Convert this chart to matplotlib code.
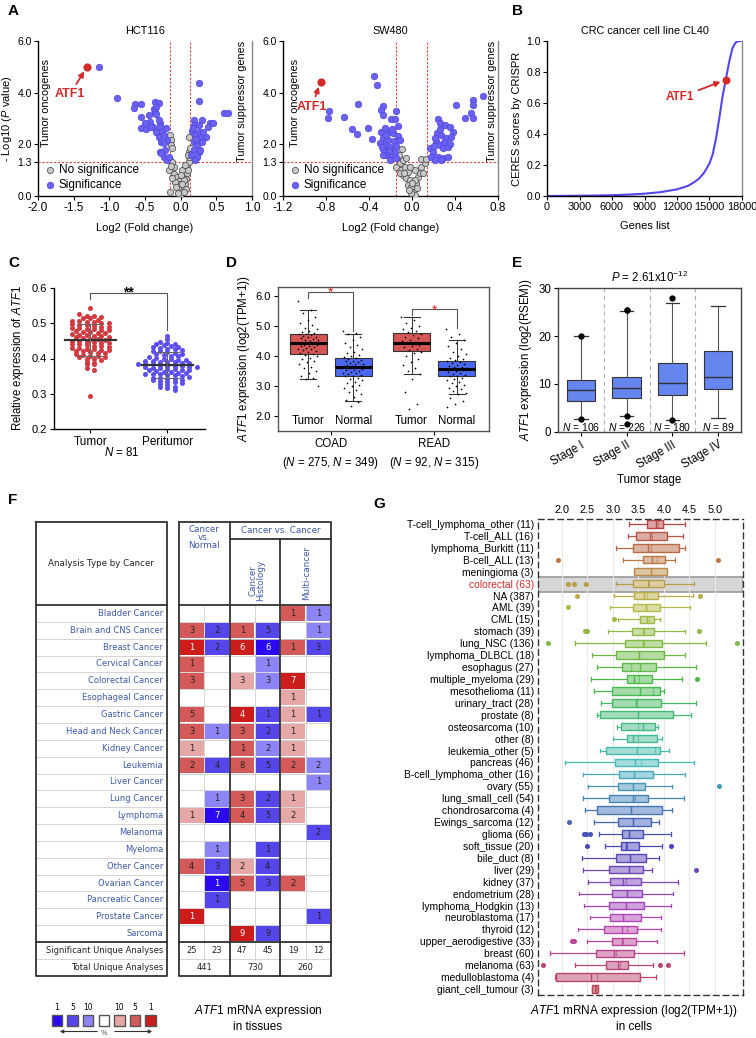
import colorsys
import numpy as np
import matplotlib
matplotlib.use("Agg")
import matplotlib.pyplot as plt
from matplotlib.patches import Rectangle

plt.rcParams['font.family'] = ['Liberation Sans', 'DejaVu Sans']
plt.rcParams['mathtext.fontset'] = 'custom'
plt.rcParams['mathtext.rm'] = 'Liberation Sans'
plt.rcParams['mathtext.it'] = 'Liberation Sans:italic'
plt.rcParams['mathtext.bf'] = 'Liberation Sans:bold'
plt.rcParams['font.size'] = 8
plt.rcParams['axes.linewidth'] = 1.0

# ---------------- data ----------------
# A: volcano plots (log2 fold change, -log10 p)
hct_sig_x = [-1.15, -0.89, -0.64, -0.55, -0.65, -0.36, -0.31, -0.38, -0.34, -0.36, -0.55, -0.45,
             -0.34, -0.43, -0.29, -0.50, -0.55, -0.48, -0.39, -0.29, -0.20, -0.27, -0.35, -0.31,
             -0.24, -0.27, -0.19, -0.29, -0.22, -0.24, -0.19, -0.41, -0.30, -0.24, -0.17, -0.28,
             0.25, 0.25, 0.61, 0.66, 0.18, 0.30, 0.41, 0.45, 0.39, 0.18, 0.25, 0.16, 0.25, 0.20,
             0.27, 0.36, 0.32, 0.18, 0.23, 0.19, 0.25, 0.23, 0.20, 0.27, 0.15, 0.22, 0.30, 0.17]
hct_sig_y = [5.00, 3.81, 3.55, 3.55, 3.40, 3.62, 3.59, 3.36, 3.46, 3.27, 3.07, 3.14,
             3.18, 2.88, 2.84, 2.82, 2.62, 2.59, 2.69, 2.69, 2.62, 2.49, 2.49, 2.30,
             2.36, 2.10, 2.17, 1.72, 1.78, 1.52, 1.40, 2.66, 2.95, 2.04, 1.52, 1.65,
             4.39, 3.68, 3.23, 3.23, 2.95, 2.95, 2.84, 2.84, 2.69, 2.75, 2.75, 2.53, 2.49, 2.36,
             2.27, 2.30, 2.49, 2.10, 1.98, 1.78, 1.72, 1.52, 1.40, 1.78, 1.60, 2.20, 2.10, 2.62]
hct_ns_x = [-0.15, -0.14, -0.14, -0.125, -0.15, -0.125, -0.16, -0.10, -0.055, -0.03, -0.01, -0.03,
            0.015, -0.01, 0.04, 0.06, 0.075, 0.09, 0.09, 0.11, 0.12, 0.12, 0.13, 0.12, -0.15,
            -0.08, 0.04, 0.08, -0.10, 0.015, -0.12, -0.06, 0.0, 0.05, -0.04, 0.10, 0.06, -0.13,
            0.02, 0.10]
hct_ns_y = [2.36, 2.17, 1.98, 1.85, 1.40, 1.33, 0.99, 0.85, 0.72, 0.59, 0.47, 0.28,
            0.14, 0.04, 0.34, 0.47, 0.66, 0.88, 1.14, 1.33, 1.52, 1.72, 1.85, 2.30, 0.14,
            0.55, 0.61, 0.28, 1.14, 0.99, 0.70, 0.35, 0.80, 0.15, 0.10, 1.00, 1.20, 1.15,
            0.45, 1.60]
hct_atf1 = (-1.31, 5.01)

sw_sig_x = [-0.35, -0.33, -0.77, -0.78, -0.63, -0.50, -0.56, -0.51, -0.41, -0.37, -0.27, -0.29,
            -0.27, -0.20, -0.16, -0.15, -0.285, -0.254, -0.214, -0.177, -0.13, -0.27, -0.223,
            -0.17, -0.115, -0.254, -0.208, -0.146, -0.27, -0.214, -0.161, -0.239, -0.192, -0.27,
            -0.208, -0.146, -0.30, -0.24, -0.19, -0.28, -0.13,
            0.66, 0.57, 0.57, 0.41, 0.49, 0.55, 0.57, 0.242, 0.258, 0.304, 0.35, 0.38, 0.23, 0.27,
            0.32, 0.366, 0.227, 0.258, 0.289, 0.335, 0.164, 0.195, 0.18, 0.242, 0.289, 0.335,
            0.21, 0.27, 0.30, 0.21, 0.35, 0.26, 0.20]
sw_sig_y = [4.64, 4.30, 3.29, 3.00, 3.07, 3.57, 2.58, 2.40, 2.62, 2.20, 3.47, 3.34,
            3.14, 2.97, 2.97, 3.29, 2.49, 2.62, 2.49, 2.43, 2.33, 2.24, 2.17,
            2.11, 2.17, 1.98, 1.91, 1.94, 1.81, 1.76, 1.72, 1.59, 1.52, 1.59,
            1.40, 1.46, 2.05, 2.35, 2.60, 1.90, 2.70,
            3.88, 3.72, 3.53, 3.53, 3.00, 3.20, 3.00, 2.97, 2.82, 2.75, 2.69, 2.49, 2.43, 2.36,
            2.24, 2.27, 2.11, 1.98, 1.85, 1.89, 1.85, 1.72, 1.52, 1.52, 1.46, 1.52,
            1.40, 1.40, 2.10, 2.25, 2.00, 2.60, 1.95]
sw_ns_x = [-0.09, -0.13, -0.115, -0.084, -0.053, -0.146, -0.10, -0.068, -0.037, -0.084, -0.053,
           -0.022, -0.037, -0.006, 0.009, 0.025, -0.006, 0.04, 0.056, 0.071, 0.102, 0.087, 0.118,
           0.087, 0.133, 0.025, -0.022, -0.115, 0.025, -0.12, -0.07, 0.0, 0.05, -0.03]
sw_ns_y = [1.81, 1.46, 1.27, 1.40, 1.46, 1.14, 1.01, 1.14, 0.94, 0.81, 0.68,
           0.62, 0.43, 0.36, 0.17, 0.04, 0.10, 0.49, 0.75, 0.88, 0.88, 1.14, 1.27,
           1.42, 1.42, 1.01, 1.14, 0.88, 0.62, 1.60, 0.90, 0.50, 0.30, 0.25]
sw_atf1 = (-0.85, 4.43)

# B: CERES curve
b_genes = [0, 1500, 3000, 4500, 6000, 7500, 9000, 10500, 12000, 13000, 13500, 14000, 14500,
           15000, 15300, 15600, 15900, 16200, 16500, 16800, 17100, 17400, 17700, 18000]
b_scores = [0.0, 0.001, 0.002, 0.003, 0.005, 0.009, 0.015, 0.025, 0.043, 0.065, 0.085, 0.11, 0.15,
            0.21, 0.27, 0.37, 0.50, 0.64, 0.75, 0.86, 0.95, 0.99, 1.0, 1.0]
b_atf1 = (16500, 0.75)

# C: relative expression, N = 81
c_tumor = [0.543, 0.525, 0.521, 0.520, 0.518, 0.516, 0.515, 0.508, 0.506, 0.505, 0.504, 0.503,
           0.502, 0.500, 0.497, 0.495, 0.494, 0.492, 0.490, 0.489, 0.487, 0.486, 0.485, 0.484,
           0.482, 0.480, 0.478, 0.476, 0.475, 0.473, 0.471, 0.470, 0.468, 0.466, 0.465, 0.463,
           0.461, 0.460, 0.458, 0.456, 0.455, 0.453, 0.451, 0.450, 0.448, 0.446, 0.445, 0.443,
           0.441, 0.440, 0.438, 0.436, 0.435, 0.433, 0.431, 0.430, 0.428, 0.426, 0.425, 0.423,
           0.421, 0.420, 0.418, 0.416, 0.415, 0.413, 0.410, 0.408, 0.406, 0.405, 0.403, 0.400,
           0.398, 0.395, 0.390, 0.387, 0.385, 0.383, 0.372, 0.367, 0.295]
c_peri = [0.465, 0.455, 0.447, 0.444, 0.442, 0.440, 0.438, 0.436, 0.434, 0.432, 0.430, 0.428,
          0.426, 0.424, 0.422, 0.420, 0.418, 0.416, 0.414, 0.412, 0.410, 0.408, 0.406, 0.404,
          0.402, 0.400, 0.399, 0.397, 0.396, 0.394, 0.393, 0.391, 0.390, 0.389, 0.387, 0.386,
          0.385, 0.384, 0.383, 0.382, 0.380, 0.379, 0.378, 0.377, 0.376, 0.375, 0.374, 0.372,
          0.371, 0.370, 0.368, 0.367, 0.366, 0.365, 0.363, 0.362, 0.360, 0.358, 0.357, 0.356,
          0.355, 0.353, 0.352, 0.350, 0.348, 0.346, 0.345, 0.343, 0.341, 0.340, 0.338, 0.336,
          0.334, 0.332, 0.330, 0.328, 0.325, 0.320, 0.318, 0.315, 0.312]

# D: GEPIA box plots
d_groups = ['Tumor', 'Normal', 'Tumor', 'Normal']
d_q1 = [4.07, 3.35, 4.17, 3.33]
d_med = [4.42, 3.65, 4.45, 3.58]
d_q3 = [4.72, 3.92, 4.77, 3.83]
d_whislo = [3.25, 2.50, 3.40, 2.75]
d_whishi = [5.55, 4.72, 5.30, 4.55]
d_points = [
    [5.85, 5.55, 5.45, 5.3, 5.2, 5.1, 5.05, 4.95, 4.9, 4.85, 4.8, 4.78, 4.75, 4.72, 4.7, 4.68,
     4.65, 4.62, 4.6, 4.58, 4.55, 4.52, 4.5, 4.48, 4.46, 4.44, 4.42, 4.4, 4.38, 4.36, 4.34, 4.32,
     4.3, 4.28, 4.25, 4.22, 4.2, 4.17, 4.14, 4.1, 4.07, 4.03, 4.0, 3.95, 3.9, 3.85, 3.8, 3.72,
     3.65, 3.6, 3.5, 3.42, 3.35, 3.28, 3.25, 3.0],
    [4.85, 4.78, 4.72, 4.65, 4.55, 4.45, 4.38, 4.3, 4.22, 4.15, 4.1, 4.05, 4.0, 3.97, 3.94, 3.9,
     3.88, 3.85, 3.82, 3.8, 3.78, 3.75, 3.73, 3.7, 3.68, 3.66, 3.64, 3.62, 3.6, 3.58, 3.55, 3.52,
     3.5, 3.48, 3.45, 3.42, 3.4, 3.37, 3.35, 3.32, 3.28, 3.25, 3.2, 3.15, 3.1, 3.05, 3.0, 2.95,
     2.88, 2.8, 2.72, 2.65, 2.55, 2.48, 2.35],
    [5.3, 5.2, 5.1, 5.0, 4.95, 4.9, 4.85, 4.8, 4.75, 4.7, 4.65, 4.6, 4.55, 4.5, 4.46, 4.42, 4.38,
     4.34, 4.3, 4.25, 4.2, 4.15, 4.1, 4.0, 3.9, 3.8, 3.7, 3.6, 3.5, 3.4, 3.25, 2.8, 2.4, 2.25],
    [4.9, 4.75, 4.62, 4.55, 4.45, 4.35, 4.25, 4.15, 4.08, 4.0, 3.95, 3.9, 3.86, 3.83, 3.8, 3.77,
     3.74, 3.71, 3.68, 3.65, 3.62, 3.6, 3.58, 3.56, 3.53, 3.5, 3.47, 3.44, 3.41, 3.38, 3.35, 3.32,
     3.28, 3.24, 3.2, 3.15, 3.1, 3.05, 3.0, 2.95, 2.9, 2.85, 2.78, 2.72, 2.6, 2.5, 2.4, 2.3]]
d_cohorts = ['COAD', 'READ']
d_counts = [(275, 349), (92, 315)]

# E: tumor stage
e_stages = ['Stage I', 'Stage II', 'Stage III', 'Stage IV']
e_n = [106, 226, 180, 89]
e_q1 = [6.5, 7.0, 7.7, 9.0]
e_med = [8.8, 9.1, 10.3, 11.5]
e_q3 = [10.9, 11.4, 14.4, 16.8]
e_whislo = [2.7, 3.3, 2.5, 3.0]
e_whishi = [20.0, 25.2, 26.8, 26.2]
e_fliers = [[20.0, 2.7], [25.5, 25.5, 3.3, 1.7], [27.9, 2.4], []]

# F: Oncomine table
f_cancers = ['Bladder Cancer', 'Brain and CNS Cancer', 'Breast Cancer', 'Cervical Cancer',
             'Colorectal Cancer', 'Esophageal Cancer', 'Gastric Cancer', 'Head and Neck Cancer',
             'Kidney Cancer', 'Leukemia', 'Liver Cancer', 'Lung Cancer', 'Lymphoma', 'Melanoma',
             'Myeloma', 'Other Cancer', 'Ovarian Cancer', 'Pancreatic Cancer', 'Prostate Cancer',
             'Sarcoma']
f_counts = [[0, 0, 0, 0, 1, 1], [3, 2, 1, 5, 0, 1], [1, 2, 6, 6, 1, 3], [1, 0, 0, 1, 0, 0],
            [3, 0, 3, 3, 7, 0], [0, 0, 0, 0, 1, 0], [5, 0, 4, 1, 1, 1], [3, 1, 3, 2, 1, 0],
            [1, 0, 1, 2, 1, 0], [2, 4, 8, 5, 2, 2], [0, 0, 0, 0, 0, 1], [0, 1, 3, 2, 1, 0],
            [1, 7, 4, 5, 2, 0], [0, 0, 0, 0, 0, 2], [0, 1, 0, 1, 0, 0], [4, 3, 2, 4, 0, 0],
            [0, 1, 5, 3, 2, 0], [0, 1, 0, 0, 0, 0], [1, 0, 0, 0, 0, 1], [0, 0, 9, 9, 0, 0]]
f_shade = [[0, 0, 0, 0, 2, 1], [2, 2, 2, 2, 0, 1], [3, 2, 3, 3, 2, 2], [2, 0, 0, 1, 0, 0],
           [2, 0, 1, 1, 3, 0], [0, 0, 0, 0, 1, 0], [2, 0, 3, 2, 1, 2], [2, 1, 2, 2, 1, 0],
           [1, 0, 2, 1, 1, 0], [2, 2, 2, 2, 2, 1], [0, 0, 0, 0, 0, 1], [0, 1, 2, 2, 1, 0],
           [1, 3, 2, 2, 1, 0], [0, 0, 0, 0, 0, 2], [0, 1, 0, 2, 0, 0], [2, 2, 1, 2, 0, 0],
           [0, 3, 2, 2, 2, 0], [0, 2, 0, 0, 0, 0], [3, 0, 0, 0, 0, 2], [0, 0, 3, 2, 0, 0]]
f_sig = [25, 23, 47, 45, 19, 12]
f_total = [441, 730, 260]
f_legend_labels = ['1', '5', '10', '', '10', '5', '1']

# G: CCLE lineages
g_labels = ['T-cell_lymphoma_other', 'T-cell_ALL', 'lymphoma_Burkitt', 'B-cell_ALL', 'meningioma',
            'colorectal', 'NA', 'AML', 'CML', 'stomach', 'lung_NSC', 'lymphoma_DLBCL', 'esophagus',
            'multiple_myeloma', 'mesothelioma', 'urinary_tract', 'prostate', 'osteosarcoma', 'other',
            'leukemia_other', 'pancreas', 'B-cell_lymphoma_other', 'ovary', 'lung_small_cell',
            'chondrosarcoma', 'Ewings_sarcoma', 'glioma', 'soft_tissue', 'bile_duct', 'liver',
            'kidney', 'endometrium', 'lymphoma_Hodgkin', 'neuroblastoma', 'thyroid',
            'upper_aerodigestive', 'breast', 'melanoma', 'medulloblastoma', 'giant_cell_tumour']
g_n = [11, 16, 11, 13, 3, 63, 387, 39, 15, 39, 136, 18, 27, 29, 11, 28, 8, 10, 8, 5, 46, 16, 55,
       54, 4, 12, 66, 20, 8, 29, 37, 28, 13, 17, 12, 33, 60, 63, 4, 3]
g_whislo = [3.32, 3.30, 3.05, 3.19, 3.41, 3.05, 3.03, 2.94, 3.09, 2.90, 2.25, 2.59, 2.69, 2.56,
            2.63, 2.76, 2.68, 3.07, 3.01, 2.75, 2.06, 2.42, 2.52, 2.42, 2.46, 2.62, 2.73, 2.84,
            2.39, 2.42, 2.52, 2.34, 2.44, 2.54, 2.31, 2.50, 1.76, 2.25, 1.86, 2.58]
g_q1 = [3.66, 3.45, 3.39, 3.59, 3.41, 3.40, 3.42, 3.40, 3.53, 3.38, 3.24, 3.06, 3.18, 3.28, 2.99,
        2.99, 2.75, 3.15, 3.27, 2.86, 3.04, 3.11, 3.10, 2.92, 2.68, 3.09, 3.18, 3.16, 3.05, 2.93,
        2.95, 2.99, 2.92, 2.94, 2.82, 2.99, 2.66, 2.87, 1.89, 2.58]
g_med = [3.84, 3.73, 3.68, 3.76, 3.74, 3.68, 3.61, 3.64, 3.66, 3.58, 3.58, 3.52, 3.53, 3.42, 3.53,
         3.46, 3.50, 3.58, 3.40, 3.48, 3.43, 3.42, 3.39, 3.39, 3.35, 3.40, 3.31, 3.25, 3.33, 3.32,
         3.20, 3.28, 3.25, 3.19, 3.17, 3.17, 3.02, 3.09, 2.56, 2.64]
g_mean = [3.88, 3.77, 3.75, 3.87, 3.74, 3.70, 3.66, 3.64, 3.70, 3.60, 3.60, 3.52, 3.35, 3.52,
          3.79, 3.47, 3.50, 3.50, 3.50, 3.82, 3.55, 3.42, 3.39, 3.43, 3.35, 3.40, 3.31, 3.28,
          3.33, 3.32, 3.26, 3.28, 3.25, 3.19, 3.28, 3.20, 3.05, 3.13, 2.68, 2.66]
g_q3 = [3.99, 4.05, 4.29, 4.02, 4.05, 4.00, 3.89, 3.92, 3.80, 3.80, 3.97, 4.00, 3.84, 3.77, 3.92,
        3.95, 4.18, 3.82, 3.86, 3.92, 3.89, 3.79, 3.63, 3.69, 3.97, 3.74, 3.58, 3.52, 3.64, 3.58,
        3.54, 3.56, 3.61, 3.54, 3.48, 3.46, 3.42, 3.29, 3.53, 2.70]
g_whishi = [4.41, 4.38, 4.41, 4.22, 4.05, 4.58, 4.56, 4.52, 3.93, 4.41, 4.82, 4.41, 4.62, 4.36,
            4.01, 4.63, 4.54, 3.89, 3.97, 4.10, 4.58, 4.41, 4.16, 4.40, 4.16, 3.90, 4.13, 3.97,
            3.91, 3.76, 4.28, 4.18, 4.13, 3.95, 3.95, 3.87, 4.39, 3.79, 3.84, 2.70]
g_fliers = [[], [], [], [1.92, 5.05], [], [2.11, 2.24, 2.48], [2.30, 4.71], [2.12], [3.02],
            [2.45, 2.50, 4.69], [1.72, 5.44], [], [], [4.64], [], [], [], [], [], [], [], [],
            [5.07], [], [], [2.14], [2.43, 2.48, 2.54], [2.50, 4.13], [], [4.63], [], [], [], [],
            [], [2.19, 2.23], [], [1.62, 3.93, 4.07], [], []]
g_highlight = 'colorectal'

# ---------------- figure ----------------
W, H = 756, 1038
fig = plt.figure(figsize=(W / 100, H / 100), dpi=100)


def add_ax(l, t, r, b):
    return fig.add_axes([l / W, 1 - b / H, (r - l) / W, (b - t) / H])


def ftext(x, y, s, **kw):
    fig.text(x / W, 1 - y / H, s, **kw)


RED = '#d42a2a'
SIG_BLUE = '#6a62f2'

for letter, x, y in [('A', 8, 11), ('B', 512, 11), ('C', 8, 263), ('D', 226, 263),
                     ('E', 512, 263), ('F', 8, 500), ('G', 373, 504)]:
    ftext(x, y, letter, fontsize=11, fontweight='bold', va='center', ha='left')

ARROW = dict(arrowstyle='-|>', color=RED, lw=1.3, shrinkA=1, shrinkB=4, mutation_scale=8)


# ---- A ----
def volcano(ax, sx, sy, nx, ny, atf, txt, vl, xlim, xticks, title, onc_x, sup_x):
    ax.scatter(nx, ny, s=20, facecolor='#c9c9c9', edgecolor='#555555', lw=0.6, zorder=3,
               label='No significance')
    ax.scatter(sx, sy, s=22, facecolor=SIG_BLUE, edgecolor='#4f45dc', lw=0.5, zorder=3,
               label='Significance')
    ax.scatter([atf[0]], [atf[1]], s=24, color=RED, zorder=4)
    ax.annotate('ATF1', xy=atf, xytext=txt, color=RED, fontweight='bold', fontsize=9,
                ha='center', va='center', arrowprops=ARROW)
    for v in vl:
        ax.axvline(v, color='#e04040', ls=(0, (2, 1.5)), lw=0.8, zorder=1)
    ax.axhline(1.3, color='#e04040', ls=(0, (2, 1.5)), lw=0.8, zorder=1)
    ax.set_xlim(*xlim)
    ax.set_ylim(0, 6)
    ax.set_xticks(xticks)
    ax.set_xticklabels(['%.1f' % t for t in xticks], fontsize=8.5)
    ax.set_yticks([0, 1.3, 2, 4, 6])
    ax.set_yticklabels(['0.0', '1.3', '2.0', '4.0', '6.0'], fontsize=7.5)
    ax.spines['top'].set_visible(False)
    ax.spines['right'].set_color('#888888')
    ax.tick_params(length=3, pad=1.5)
    ax.set_title(title, fontsize=7.8, pad=5)
    ax.set_xlabel('Log2 (Fold change)', fontsize=8, labelpad=6)
    ax.text(onc_x, 0.6, 'Tumor oncogenes', rotation=90, transform=ax.transAxes,
            ha='center', va='center', fontsize=7.8)
    ax.text(sup_x, 0.61, 'Tumor suppressor genes', rotation=90, transform=ax.transAxes,
            ha='center', va='center', fontsize=7.8)
    ax.legend(loc='lower left', frameon=False, fontsize=8.5, handletextpad=0.1,
              labelspacing=0.25, borderaxespad=0.15, borderpad=0.3, handlelength=1.2)


axA1 = add_ax(38, 41, 252, 196)
volcano(axA1, hct_sig_x, hct_sig_y, hct_ns_x, hct_ns_y, hct_atf1, (-1.55, 3.95), [-0.15, 0.13],
        (-2, 1), np.arange(-2, 1.01, 0.5), 'HCT116', 0.037, 0.953)
axA1.set_ylabel('- Log10 ($\\it{P}$ value)', fontsize=8, labelpad=2)

axA2 = add_ax(283, 41, 498, 196)
volcano(axA2, sw_sig_x, sw_sig_y, sw_ns_x, sw_ns_y, sw_atf1, (-0.93, 3.46), [-0.15, 0.14],
        (-1.2, 0.8), np.arange(-1.2, 0.81, 0.4), 'SW480', 0.054, 0.97)

# ---- B ----
axB = add_ax(547, 41, 742, 196)
axB.plot(b_genes, b_scores, color='#5546ee', lw=1.5)
axB.scatter([b_atf1[0]], [b_atf1[1]], s=22, color=RED, zorder=4)
axB.annotate('ATF1', xy=b_atf1, xytext=(12300, 0.637), color=RED, fontweight='bold',
             fontsize=8.5, ha='center', va='center', arrowprops=ARROW)
axB.set_xlim(0, 18000)
axB.set_ylim(0, 1)
axB.set_xticks(np.arange(0, 18001, 3000))
axB.set_xticklabels([str(t) for t in range(0, 18001, 3000)], fontsize=7.8)
axB.set_yticks(np.arange(0, 1.01, 0.2))
axB.set_yticklabels(['%.1f' % t for t in np.arange(0, 1.01, 0.2)], fontsize=7.5)
axB.spines['top'].set_visible(False)
axB.spines['right'].set_color('#888888')
axB.tick_params(length=3, pad=1.5)
axB.set_title('CRC cancer cell line CL40', fontsize=7.8, pad=5)
axB.set_xlabel('Genes list', fontsize=8, labelpad=6)
axB.set_ylabel('CERES scores by CRISPR', fontsize=8, labelpad=3)


# ---- C ----
def swarm(vals, bin_w, step):
    vals = np.asarray(vals)
    bins = np.floor(vals / bin_w)
    offs = np.zeros(len(vals))
    for b in np.unique(bins):
        idx = np.where(bins == b)[0]
        offs[idx] = (np.arange(len(idx)) - (len(idx) - 1) / 2) * step
    return offs


axC = add_ax(54, 288, 205, 429)
for pos, vals, col in [(0, c_tumor, '#d23a3f'), (1, c_peri, '#5d4ff0')]:
    v = np.asarray(vals)
    axC.scatter(pos + swarm(v, 0.0094, 0.095), v, s=13, color=col, lw=0, zorder=3)
    m, sd = v.mean(), v.std()
    axC.plot([pos - 0.33, pos + 0.33], [m, m], color='#333333', lw=1.6, zorder=4)
    axC.errorbar([pos], [m], yerr=[sd], color='#666666', lw=0.8, capsize=9, capthick=0.8,
                 zorder=4)
axC.plot([0, 0, 1, 1], [0.57, 0.585, 0.585, 0.48], color='#555555', lw=0.8)
axC.text(0.5, 0.588, '**', ha='center', va='center', fontsize=10, fontweight='bold')
axC.set_xlim(-0.47, 1.49)
axC.set_ylim(0.2, 0.6)
axC.set_xticks([0, 1])
axC.set_xticklabels(['Tumor', 'Peritumor'], fontsize=8.5)
axC.set_yticks(np.arange(0.2, 0.61, 0.1))
axC.set_yticklabels(['%.1f' % t for t in np.arange(0.2, 0.61, 0.1)], fontsize=8)
for s in ['top', 'right']:
    axC.spines[s].set_visible(False)
axC.tick_params(length=3, pad=2)
axC.set_ylabel('Relative expression of $\\it{ATF1}$', fontsize=8.3, labelpad=4)
ftext(122, 453, '$\\it{N}$ = 81', fontsize=8.3, ha='center', va='center')

# ---- D ----
axD = add_ax(278, 287, 489, 431)
d_pos = [0, 1, 2.3, 3.3]
d_cols = ['#d65555', '#4c68f0', '#d65555', '#4c68f0']
for i, p in enumerate(d_pos):
    st = dict(med=d_med[i], q1=d_q1[i], q3=d_q3[i], whislo=d_whislo[i], whishi=d_whishi[i],
              fliers=[])
    axD.bxp([st], positions=[p], widths=0.82, patch_artist=True, showfliers=False,
            boxprops=dict(facecolor=d_cols[i], edgecolor='#333333', lw=0.8),
            medianprops=dict(color='black', lw=2.2),
            whiskerprops=dict(color='#333333', lw=0.7),
            capprops=dict(color='#333333', lw=0.8), capwidths=0.36)
    pts = np.asarray(d_points[i])
    jit = ((np.arange(len(pts)) * 0.618034) % 1 - 0.5) * 0.45
    axD.scatter(p + jit, pts, s=1.5, color='black', lw=0, zorder=5)
axD.plot([0, 0, 1, 1], [5.95, 6.15, 6.15, 4.85], color='#555555', lw=0.8)
axD.plot([2.3, 2.3, 3.3, 3.3], [5.38, 5.56, 5.56, 4.95], color='#555555', lw=0.8)
axD.text(0.5, 6.1, '*', color=RED, ha='center', va='center', fontsize=10)
axD.text(2.8, 5.51, '*', color=RED, ha='center', va='center', fontsize=10)
for p, g in zip(d_pos, d_groups):
    axD.text(p, 1.83, g, ha='center', va='center', fontsize=8.3)
axD.set_xlim(-0.67, 4.02)
axD.set_ylim(1.5, 6.3)
axD.set_yticks([2, 3, 4, 5, 6])
axD.set_yticklabels(['2.0', '3.0', '4.0', '5.0', '6.0'], fontsize=8)
axD.set_xticks([0.5, 2.8])
axD.set_xticklabels(['%s\n($\\it{N}$ = %d, $\\it{N}$ = %d)' % (c, n[0], n[1])
                     for c, n in zip(d_cohorts, d_counts)], fontsize=8.3, linespacing=1.5)
for s in axD.spines.values():
    s.set_color('#555555')
axD.tick_params(length=3, pad=2)
axD.set_ylabel('$\\it{ATF1}$ expression (log2(TPM+1))', fontsize=8.3, labelpad=3)

# ---- E ----
axE = add_ax(558, 288, 741, 432)
for i in range(4):
    st = dict(med=e_med[i], q1=e_q1[i], q3=e_q3[i], whislo=e_whislo[i], whishi=e_whishi[i],
              fliers=e_fliers[i])
    axE.bxp([st], positions=[i + 1], widths=0.62, patch_artist=True,
            boxprops=dict(facecolor='#6585ef', edgecolor='#333333', lw=0.8),
            medianprops=dict(color='#333333', lw=1.0),
            whiskerprops=dict(color='#555555', lw=0.8),
            capprops=dict(color='#333333', lw=0.9), capwidths=0.3,
            flierprops=dict(marker='o', markerfacecolor='black', markeredgecolor='black',
                            markersize=3.5))
    axE.text(i + 1, 1.1, '$\\it{N}$ = %d' % e_n[i], ha='center', va='center', fontsize=7.5)
for xv in [1.5, 2.5, 3.5]:
    axE.axvline(xv, color='#b0b0b0', ls=(0, (4, 3)), lw=0.8, zorder=0)
axE.set_xlim(0.5, 4.5)
axE.set_ylim(0, 30)
axE.set_yticks([0, 10, 20, 30])
axE.set_yticklabels(['0', '10', '20', '30'], fontsize=8.3)
axE.set_xticks([1, 2, 3, 4])
axE.set_xticklabels(e_stages, rotation=30, ha='right', rotation_mode='anchor', fontsize=8.3)
for s in axE.spines.values():
    s.set_color('#444444')
axE.tick_params(length=3, pad=2)
axE.set_title('$\\it{P}$ = 2.61x10$^{-12}$', fontsize=8.3, pad=4)
axE.set_xlabel('Tumor stage', fontsize=8.3, labelpad=2)
axE.set_ylabel('$\\it{ATF1}$ expression (log2(RSEM))', fontsize=8.3, labelpad=3)

# ---- F ----
axF = fig.add_axes([0, 0, 380 / W, 1])
axF.set_xlim(0, 380)
axF.set_ylim(H, 0)
axF.axis('off')
F_RED = ['#e6a7a7', '#d45a5a', '#cc1c1c']
F_BLUE = ['#8d84f5', '#5546ec', '#2a08f2']
F_TXT = '#3d5aa6'
TF = dict(family='DejaVu Sans', fontsize=6)
LT_L, LT_R, RT_L, RT_R = 36, 167, 179, 331
HT, HB = 522, 605
rh = 16.85
cw = (RT_R - RT_L) / 6
nb = HB + len(f_cancers) * rh
sb = nb + 2 * rh
for r, name in enumerate(f_cancers):
    y0 = HB + r * rh
    axF.text(LT_R - 4, y0 + rh / 2, name, ha='right', va='center', color=F_TXT, **TF)
    for c in range(6):
        cnt = f_counts[r][c]
        lvl = f_shade[r][c]
        if cnt == 0:
            continue
        col = (F_RED if c % 2 == 0 else F_BLUE)[lvl - 1]
        axF.add_patch(Rectangle((RT_L + c * cw + 0.7, y0 + 0.7), cw - 1.4, rh - 1.4, fc=col,
                                ec='none'))
        axF.text(RT_L + c * cw + cw / 2, y0 + rh / 2, str(cnt), ha='center', va='center',
                 color='white' if lvl == 3 else '#222222', **TF)
for r in range(1, len(f_cancers) + 2):
    yy = HB + r * rh
    axF.plot([LT_L, LT_R], [yy, yy], color='#cfcfcf', lw=0.6)
    axF.plot([RT_L, RT_R], [yy, yy], color='#cfcfcf', lw=0.6)
for k in [1, 3, 5]:
    axF.plot([RT_L + k * cw] * 2, [HB, nb + rh], color='#cfcfcf', lw=0.6)
axF.text(LT_R - 4, nb + rh / 2, 'Significant Unique Analyses', ha='right', va='center',
         color='#222222', **TF)
axF.text(LT_R - 4, nb + 1.5 * rh, 'Total Unique Analyses', ha='right', va='center',
         color='#222222', **TF)
for c, v in enumerate(f_sig):
    axF.text(RT_L + c * cw + cw / 2, nb + rh / 2, str(v), ha='center', va='center',
             color='#222222', **TF)
for g, v in enumerate(f_total):
    axF.text(RT_L + (2 * g + 1) * cw, nb + 1.5 * rh, str(v), ha='center', va='center',
             color='#222222', **TF)
BK = dict(color='#333333', lw=1.3)
for xl, xr in [(LT_L, LT_R), (RT_L, RT_R)]:
    axF.plot([xl, xr, xr, xl, xl], [HT, HT, sb, sb, HT], **BK)
    axF.plot([xl, xr], [HB, HB], **BK)
    axF.plot([xl, xr], [nb, nb], **BK)
axF.plot([RT_L + 2 * cw] * 2, [HT, sb], **BK)
axF.plot([RT_L + 4 * cw] * 2, [538.7, sb], **BK)
axF.plot([RT_L + 2 * cw, RT_R], [538.7, 538.7], **BK)
axF.text((LT_L + LT_R) / 2, 563, 'Analysis Type by Cancer', ha='center', va='center',
         color='#222222', family='DejaVu Sans', fontsize=6.3)
axF.text(RT_L + cw, 525, 'Cancer\nvs.\nNormal', ha='center', va='top', color=F_TXT,
         linespacing=0.85, family='DejaVu Sans', fontsize=6.3)
axF.text(RT_L + 4 * cw, 530.5, 'Cancer vs. Cancer', ha='center', va='center', color=F_TXT,
         family='DejaVu Sans', fontsize=6.3)
axF.text(RT_L + 3 * cw + 1.5, 601, 'Cancer\nHistology', ha='center', va='bottom', rotation=90,
         color=F_TXT, linespacing=0.85, family='DejaVu Sans', fontsize=6.3)
axF.text(RT_L + 5 * cw + 1, 600, 'Multi-cancer', ha='center', va='bottom', rotation=90,
         color=F_TXT, family='DejaVu Sans', fontsize=6.3)
leg_cols = F_BLUE[::-1] + ['white'] + F_RED
for k, (col, lab) in enumerate(zip(leg_cols, f_legend_labels)):
    xc = 57 + k * 15.6
    axF.add_patch(Rectangle((xc - 5.2, 1015), 10.4, 11, fc=col, ec='#555555', lw=1.0))
    axF.text(xc, 1008, lab, ha='center', va='center', family='DejaVu Sans', fontsize=5.5)
axF.annotate('', xy=(57, 1031.5), xytext=(100, 1031.5),
             arrowprops=dict(arrowstyle='-|>', color='#333333', lw=0.8, mutation_scale=5))
axF.annotate('', xy=(155, 1031.5), xytext=(112, 1031.5),
             arrowprops=dict(arrowstyle='-|>', color='#333333', lw=0.8, mutation_scale=5))
axF.text(104, 1033, '%', ha='center', va='center', family='DejaVu Sans', fontsize=5,
         color='#555555')
axF.text(258, 1011, '$\\it{ATF1}$ mRNA expression', ha='center', va='center', fontsize=8.5)
axF.text(258, 1027, 'in tissues', ha='center', va='center', fontsize=8.5)

# ---- G ----
axG = add_ax(538, 519, 743, 995)
ng = len(g_labels)
for i in range(ng):
    rgb = colorsys.hls_to_rgb(i / ng, 0.5, 0.45)
    face = tuple(0.5 * c + 0.5 for c in rgb)
    st = dict(med=g_med[i], q1=g_q1[i], q3=g_q3[i], whislo=g_whislo[i], whishi=g_whishi[i],
              mean=g_mean[i], fliers=g_fliers[i])
    axG.bxp([st], positions=[i], widths=0.62, orientation='horizontal', patch_artist=True,
            showmeans=True, meanline=True,
            boxprops=dict(facecolor=face, edgecolor=rgb, lw=1.0),
            medianprops=dict(color=rgb, lw=1.0),
            meanprops=dict(color=rgb, lw=0.9, ls=(0, (1.5, 1))),
            whiskerprops=dict(color=rgb, lw=0.9),
            capprops=dict(color=rgb, lw=0.9), capwidths=0.3,
            flierprops=dict(marker='o', markerfacecolor=rgb, markeredgecolor=rgb,
                            markersize=2.6))
hi = g_labels.index(g_highlight)
axG.axhspan(hi - 0.55, hi + 0.72, facecolor='#d6d6d6', edgecolor='#9a9a9a', lw=1.2, zorder=0.5)
axG.set_xlim(1.53, 5.55)
axG.set_ylim(39.5, -0.42)
axG.set_xticks(np.arange(2.0, 5.01, 0.5))
axG.set_xticklabels(['%.1f' % t for t in np.arange(2.0, 5.01, 0.5)], fontsize=7.8)
axG.xaxis.tick_top()
axG.set_yticks(range(ng))
axG.set_yticklabels(['%s (%d)' % (l, n) for l, n in zip(g_labels, g_n)], fontsize=7.4)
axG.get_yticklabels()[hi].set_color(RED)
axG.tick_params(length=0, pad=3)
axG.grid(axis='x', color='#e8e8e8', lw=0.7, zorder=0)
axG.set_axisbelow(True)
for s in axG.spines.values():
    s.set_linestyle((0, (4, 3)))
    s.set_color('#333333')
    s.set_linewidth(1.0)
ftext(634, 1011, '$\\it{ATF1}$ mRNA expression (log2(TPM+1))', ha='center', va='center',
      fontsize=8.5)
ftext(634, 1027, 'in cells', ha='center', va='center', fontsize=8.5)

fig.savefig('out.png', dpi=100)
